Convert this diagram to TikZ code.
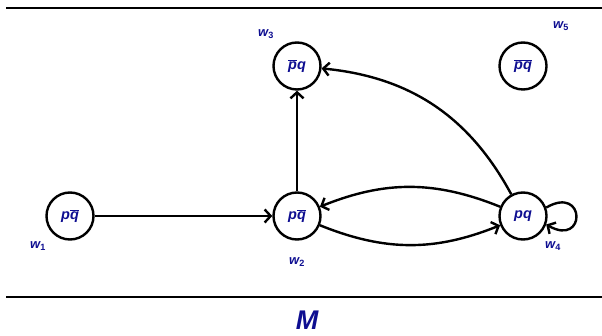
\documentclass[tikz,border=0pt]{standalone}
\usepackage{fontspec}
\setmainfont{Liberation Sans}
\usetikzlibrary{arrows.meta}
\definecolor{lblue}{RGB}{14,14,145}
\newcommand{\ovl}[1]{$\overline{\mbox{\bfseries\itshape #1}}$}
\begin{document}
\begin{tikzpicture}[x=1pt,y=-1pt,
  world/.style={circle,draw,line width=2.4pt,minimum size=47pt,inner sep=0pt,text=lblue,font=\fontsize{14.5}{16}\selectfont\bfseries\itshape},
  wlab/.style={text=lblue,font=\fontsize{13}{15}\selectfont\bfseries\itshape},
  conn/.style={line width=2.4pt,-{Straight Barb[length=6pt,width=13pt,line width=2.4pt]}}]
\useasboundingbox (0,0) rectangle (602,336);
\draw[line width=2pt] (6,8) coordinate (tl) -- (602,8) coordinate (tr);
\draw[line width=2pt] (6,297) coordinate (bl) -- (602,297) coordinate (br);
\node[world] (w1) at (70,216) {p\ovl{q}};
\node[world] (w2) at (297,216) {p\ovl{q}};
\node[world] (w3) at (297,66) {\ovl{p}q};
\node[world] (w4) at (523,216) {pq};
\node[world] (w5) at (523,66) {\ovl{pq}};
\node[wlab] (l1) at (38,246) {w$_{\mathbf{1}}$};
\node[wlab] (l2) at (297,262) {w$_{\mathbf{2}}$};
\node[wlab] (l3) at (266,34) {w$_{\mathbf{3}}$};
\node[wlab] (l4) at (553,246) {w$_{\mathbf{4}}$};
\node[wlab] (l5) at (561,26) {w$_{\mathbf{5}}$};
\node[text=lblue,font=\fontsize{27}{29}\selectfont\bfseries\itshape] (m) at (307,320) {M};
\draw[conn] (w1) -- (w2);
\draw[conn] (w2) -- (w3);
\draw[conn] (w4) to[bend right=28] (w3);
\draw[conn] (w4) to[bend right=22] (w2);
\draw[conn] (w2) to[bend right=22] (w4);
\draw[conn] (w4.20) to[out=30,in=-30,looseness=7] (w4.-20);
\end{tikzpicture}
\end{document}
